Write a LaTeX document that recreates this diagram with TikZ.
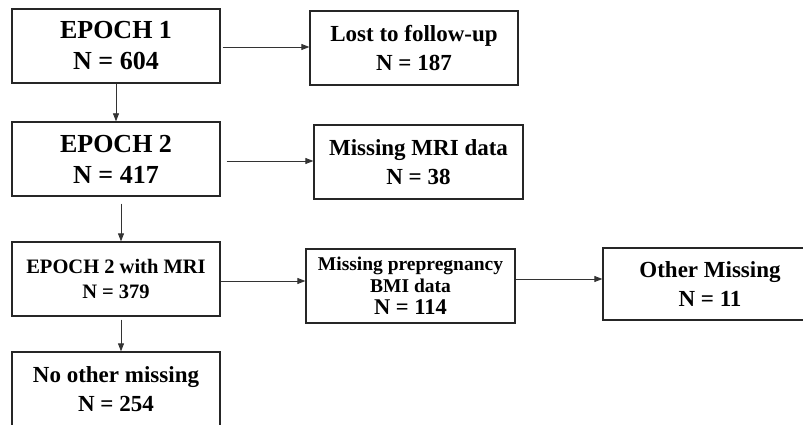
\documentclass[tikz,border=0pt]{standalone}
\usepackage{fontspec}
\setmainfont{Liberation Serif}
\usetikzlibrary{arrows.meta,positioning}

\begin{document}
\begin{tikzpicture}[
    x=1pt, y=-1pt,
    every node/.style={font=\bfseries},
    flowbox/.style={draw=black!85, line width=1.3pt, align=center, minimum width=208pt, minimum height=74pt, inner sep=0pt},
    bigtext/.style={font=\fontsize{26}{31}\selectfont\bfseries},
    midtext/.style={font=\fontsize{23}{28.5}\selectfont\bfseries},
    smalltext/.style={font=\fontsize{20.5}{24.5}\selectfont\bfseries},
    tinytext/.style={font=\fontsize{19.5}{22}\selectfont\bfseries},
    flowarrow/.style={-{Triangle[length=8pt,width=6pt]}, draw=black!80, line width=0.8pt}
]
\useasboundingbox (0,0) rectangle (803,425);

% left column
\node[flowbox, bigtext] (epoch1) at (116,46) {EPOCH 1\\N = 604};
\node[flowbox, bigtext] (epoch2) at (116,159) {EPOCH 2\\N = 417};
\node[flowbox, smalltext] (epoch2mri) at (116,279) {EPOCH 2 with MRI\\N = 379};
\node[flowbox, midtext] (complete) at (116,389) {No other missing\\N = 254};

% excluded
\node[flowbox, midtext] (lost) at (414,48) {Lost to follow-up\\N = 187};
\node[flowbox, midtext, minimum width=209pt] (nomri) at (418.5,162) {Missing MRI data\\N = 38};
\node[flowbox, tinytext, minimum width=209pt] (nobmi) at (410.5,286)
  {Missing prepregnancy\\BMI data\\{\fontsize{22.5}{22}\selectfont N = 114}};
\node[flowbox, midtext, minimum width=214pt, minimum height=72pt] (other) at (710,284) {Other Missing\\N = 11};

\draw[flowarrow] (epoch1) -- (epoch2);
\draw[flowarrow, shorten <=7pt] ([xshift=5pt]epoch2.south) -- ([xshift=5pt]epoch2mri.north);
\draw[flowarrow, shorten <=3pt] ([xshift=5pt]epoch2mri.south) -- ([xshift=5pt]complete.north);

\draw[flowarrow, shorten <=2pt] ([yshift=-1pt]epoch1.east) -- ([yshift=-1pt]epoch1.east -| lost.west);
\draw[flowarrow, shorten <=6pt] ([yshift=-2pt]epoch2.east) -- ([yshift=-2pt]epoch2.east -| nomri.west);
\draw[flowarrow] ([yshift=-2pt]epoch2mri.east) -- ([yshift=-2pt]epoch2mri.east -| nobmi.west);
\draw[flowarrow] ([yshift=7pt]nobmi.east) -- ([yshift=7pt]nobmi.east -| other.west);

\end{tikzpicture}
\end{document}
